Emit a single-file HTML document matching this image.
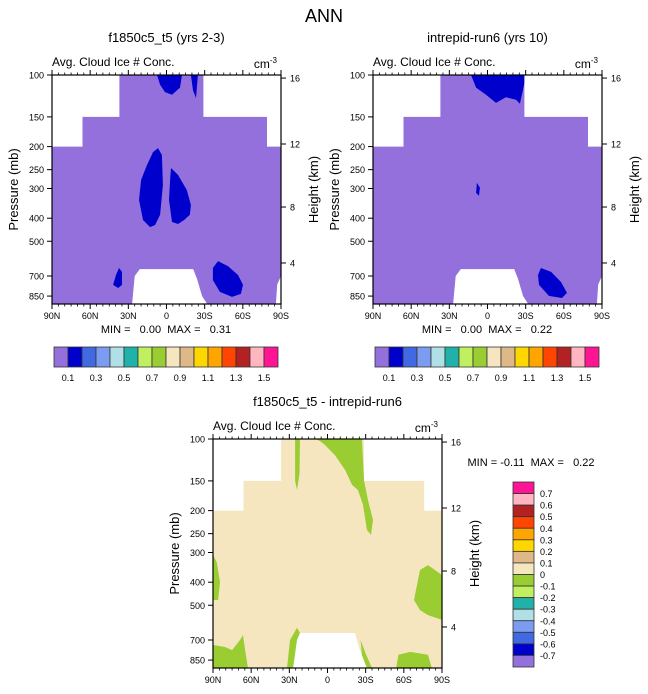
<!DOCTYPE html>
<html><head><meta charset="utf-8"><style>
body{margin:0;background:#fff;}
svg{display:block;font-family:"Liberation Sans",Arial,sans-serif;}
.pre{white-space:pre;}
</style></head><body>
<svg id="c" width="648" height="694" viewBox="0 0 648 694" xmlns="http://www.w3.org/2000/svg">
<text x="324" y="22" font-size="18" text-anchor="middle">ANN</text>
</svg>
<script>
// ---- data ----
const latTicks = [90, 60, 30, 0, -30, -60, -90];
const latLabels = ["90N", "60N", "30N", "0", "30S", "60S", "90S"];
const presTicks = [100, 150, 200, 250, 300, 400, 500, 700, 850];
const heightTicks = [16, 12, 8, 4];
const heightPres = [103, 195, 359, 617];
const cbColors = ["#9370DB","#0000CD","#4169E1","#7B9CF0","#B0E0E6","#20B2AA","#C0F060","#9ACD32","#F5E6C0","#DEB887","#FFD700","#FFA500","#FF4500","#B22222","#FFB6C1","#FF1493"];
const cbLabels = ["0.1","0.3","0.5","0.7","0.9","1.1","1.3","1.5"];
const diffLabels = ["0.7","0.6","0.5","0.4","0.3","0.2","0.1","0","-0.1","-0.2","-0.3","-0.4","-0.5","-0.6","-0.7"];
const diffColors = ["#FF1493","#FFB6C1","#B22222","#FF4500","#FFA500","#FFD700","#DEB887","#F5E6C0","#9ACD32","#C0F060","#20B2AA","#B0E0E6","#7B9CF0","#4169E1","#0000CD","#9370DB"];
// masked (no data) regions [lat,p]
const maskTL = [[90,100],[37,100],[37,150],[66,150],[66,200],[90,200]];
const maskTR = [[-29,100],[-90,100],[-90,200],[-79,200],[-79,150],[-29,150]];
const mountain = [[27,918],[25,700],[21,655],[-21,655],[-24,720],[-28,850],[-32,918]];
const edgeSliver = [[-86,918],[-87,760],[-90,700],[-90,918]];
// panel 1 (f1850c5_t5) blobs
const p1Blobs = [
 [[7.5,100],[-12.2,100],[-10.6,113],[-4.3,121],[1.2,118],[5,110]],
 [[-19.2,100],[-24.7,100],[-23.2,125],[-20.8,116]],
 [[6.7,203],[3.6,217],[2.8,290],[5,387],[9,427],[12.9,436],[18.5,407],[21.6,335],[20,276],[15.3,239],[10.6,211]],
 [[-3.5,246],[-9,263],[-16,305],[-19.2,352],[-18.4,387],[-13.8,407],[-9,423],[-4.3,415],[-2,335],[-2.8,276]],
 [[37.3,648],[35,673],[35,763],[38,786],[42,763],[39.7,693]],
 [[-40.5,606],[-48.3,636],[-56.2,693],[-60.1,763],[-58.5,832],[-51.5,857],[-42,816],[-36.5,728],[-36.5,648]]
];
// panel 2 (intrepid-run6) blobs
const p2Blobs = [
 [[13,100],[-30.3,100],[-28,115],[-25.5,132],[-22.4,127],[-14.5,124],[-6.7,131],[1.2,121],[9,113]],
 [[8.3,284],[6,298],[6.7,322],[9,313]],
 [[-42,648],[-50,673],[-57.8,742],[-62.5,824],[-58.5,866],[-48.3,849],[-40.5,763],[-39.7,693]]
];
// diff panel: masks and negative (-0.1..0) regions
const dMaskTL = [[90,100],[36.5,100],[36.5,150],[66,150],[66,200],[90,200]];
const dMaskTR = [[-28.7,100],[-90,100],[-90,200],[-76,200],[-76,150],[-28.7,150]];
const dMountain = [[27,918],[24,700],[21.6,654],[-21.6,654],[-25,760],[-31,918]];
const dGreen = [
 [[9.8,100],[-27,100],[-28.7,149],[-31.8,181],[-35.8,219],[-34.2,253],[-31,241],[-27.9,189],[-24,164],[-19.3,156],[-13.8,135],[-5.9,117],[2,106],[6,102]],
 [[25.5,100],[21.6,100],[22,140],[24,164],[25.5,150]],
 [[-68,475],[-72.7,355],[-79,339],[-90,373],[-90,576],[-79,550],[-72.7,524]],
 [[90,307],[87,330],[84.5,400],[86,475],[90,475]],
 [[90,734],[80.6,749],[75,772],[68.8,700],[66.4,667],[64.8,772],[62.5,918],[90,918]],
 [[31.8,918],[29.5,700],[24,622],[21.6,654],[27,918]],
 [[-54,918],[-55.7,808],[-65,785],[-79,808],[-82,918]],
 [[-26,700],[-30,800],[-35,918],[-28,918]]
];

const svg = document.getElementById('c');
const NS = 'http://www.w3.org/2000/svg';
function el(tag, attrs, parent, text){
  const e = document.createElementNS(NS, tag);
  for (const k in attrs) e.setAttribute(k, attrs[k]);
  if (text !== undefined) e.textContent = text;
  (parent || svg).appendChild(e);
  return e;
}
const W = 229, H = 229, K = 103.3, PBOT = 100*Math.exp(H/K);
function mkAxes(ox, oy){
  return {
    x: lat => ox + (90 - lat) / 180 * W,
    y: p => oy + K * Math.log(Math.min(p, PBOT) / 100)
  };
}
function poly(ax, pts, fill, g, name){
  const d = pts.map(q => ax.x(q[0]).toFixed(1) + ',' + ax.y(q[1]).toFixed(1)).join(' ');
  const e = el('polygon', {points: d, fill: fill}, g);
  
  
}
function panel(ox, oy, title, name, bg, masks, blobs, blobColor){
  const ax = mkAxes(ox, oy);
  const g = el('g', {});
  
  
  const clipId = name + '-clip';
  const cp = el('clipPath', {id: clipId}, g);
  el('rect', {x: ox, y: oy, width: W, height: H}, cp);
  const fg = el('g', {'clip-path': 'url(#' + clipId + ')'}, g);
  const bgr = el('rect', {x: ox, y: oy, width: W, height: H, fill: bg}, fg);
  
  
  blobs.forEach((b) => poly(ax, b, blobColor, fg, 'contour-region'));
  masks.forEach((m) => poly(ax, m, '#fff', fg, 'missing-data-region'));
  el('rect', {x: ox, y: oy, width: W, height: H, fill: 'none', stroke: '#000', 'stroke-width': 1.2}, g);
  const t = el('text', {x: ox + W/2, y: oy - 33, 'font-size': 13, 'text-anchor': 'middle'}, g, title);
  
  
  const st = el('text', {x: ox, y: oy - 9, 'font-size': 12}, g, 'Avg. Cloud Ice # Conc.');
  
  
  const u = el('text', {x: ox + W - 4, y: oy - 7, 'font-size': 12, 'text-anchor': 'end'}, g);
  
  
  u.appendChild(document.createTextNode('cm'));
  el('tspan', {dy: -5, 'font-size': 8}, u, '-3');
  latTicks.forEach((lat, i) => {
    const x = ax.x(lat);
    el('line', {x1: x, y1: oy + H, x2: x, y2: oy + H + 5, stroke: '#000'}, g);
    el('line', {x1: x, y1: oy, x2: x, y2: oy - 5, stroke: '#000'}, g);
    const tl = el('text', {x: x, y: oy + H + 15, 'font-size': 9, 'text-anchor': 'middle'}, g, latLabels[i]);
    
    
  });
  for (let lat = 85; lat > -90; lat -= 5) {
    if (lat % 30 === 0) continue;
    const x = ax.x(lat);
    el('line', {x1: x, y1: oy + H, x2: x, y2: oy + H + 2.5, stroke: '#000', 'stroke-width': 0.8}, g);
    el('line', {x1: x, y1: oy, x2: x, y2: oy - 2.5, stroke: '#000', 'stroke-width': 0.8}, g);
  }
  presTicks.forEach(p => {
    const y = ax.y(p);
    el('line', {x1: ox - 5, y1: y, x2: ox, y2: y, stroke: '#000'}, g);
    const tl = el('text', {x: ox - 8, y: y + 3.5, 'font-size': 9, 'text-anchor': 'end'}, g, String(p));
    
    
  });
  heightTicks.forEach((h, i) => {
    const y = ax.y(heightPres[i]);
    el('line', {x1: ox + W, y1: y, x2: ox + W + 5, y2: y, stroke: '#000'}, g);
    const tl = el('text', {x: ox + W + 9, y: y + 3.5, 'font-size': 9}, g, String(h));
    
    
  });
  const yt = el('text', {x: 0, y: 0, 'font-size': 13, 'text-anchor': 'middle', transform: 'translate(' + (ox - 34) + ',' + (oy + H/2) + ') rotate(-90)'}, g, 'Pressure (mb)');
  
  
  const ht = el('text', {x: 0, y: 0, 'font-size': 13, 'text-anchor': 'middle', transform: 'translate(' + (ox + W + 37) + ',' + (oy + H/2) + ') rotate(-90)'}, g, 'Height (km)');
  
  
  return ax;
}
function hColorbar(x0, y0, g){
  const bw = 14;
  cbColors.forEach((c, i) => {
    const r = el('rect', {x: x0 + i*bw, y: y0, width: bw, height: 20, fill: c, stroke: '#333', 'stroke-width': 0.8}, g);
    
    
  });
  cbLabels.forEach((l, i) => {
    const t = el('text', {x: x0 + (1 + 2*i)*bw, y: y0 + 34, 'font-size': 9, 'text-anchor': 'middle'}, g, l);
    
    
  });
}
panel(52, 75, 'f1850c5_t5 (yrs 2-3)', 'panel-f1850c5', '#9370DB', [maskTL, maskTR, mountain, edgeSliver], p1Blobs, '#0000CD');
panel(373, 75, 'intrepid-run6 (yrs 10)', 'panel-intrepid', '#9370DB', [maskTL, maskTR, mountain, edgeSliver], p2Blobs, '#0000CD');
panel(213, 439, 'f1850c5_t5 - intrepid-run6', 'difference-panel', '#F5E6C0', [dMaskTL, dMaskTR, dMountain], dGreen, '#9ACD32');

const mm1 = el('text', {x: 166, y: 333, 'font-size': 11, 'text-anchor': 'middle', 'class': 'pre'}, svg, 'MIN =   0.00  MAX =   0.31');


const mm2 = el('text', {x: 487, y: 333, 'font-size': 11, 'text-anchor': 'middle', 'class': 'pre'}, svg, 'MIN =   0.00  MAX =   0.22');


const mm3 = el('text', {x: 531, y: 466, 'font-size': 11, 'text-anchor': 'middle', 'class': 'pre'}, svg, 'MIN = -0.11  MAX =   0.22');



const cb1 = el('g', {});


hColorbar(54, 347, cb1);
const cb2 = el('g', {});


hColorbar(375, 347, cb2);

const cb3 = el('g', {});


const vh = 185/16;
diffColors.forEach((c, i) => {
  const r = el('rect', {x: 513, y: 482 + i*vh, width: 21, height: vh, fill: c, stroke: '#333', 'stroke-width': 0.8}, cb3);
  
  
});
diffLabels.forEach((l, i) => {
  const t = el('text', {x: 540, y: 482 + (i+1)*vh + 3.5, 'font-size': 9}, cb3, l);
  
  
});
</script>
</body></html>
